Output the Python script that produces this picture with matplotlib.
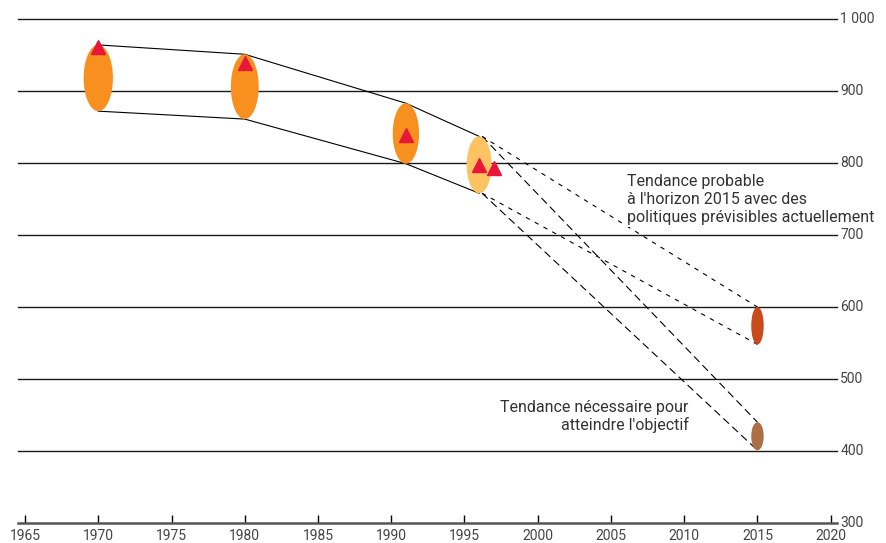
"""
Trend chart: ellipses per year, solid envelope, dashed projections to 2015
"""
import matplotlib
matplotlib.use('Agg')
import matplotlib.pyplot as plt
from matplotlib.patches import Ellipse

FONT = ['Roboto', 'DejaVu Sans']

# observed ranges (ellipse tops and bottoms)
years = [1970, 1980, 1991, 1996]
upper = [964, 951, 883, 837]
lower = [872, 861, 799, 758]
widths = [2.0, 1.9, 1.8, 1.7]
colors_obs = ['#F7901E', '#F7901E', '#F7901E', '#FDC262']

# red triangle markers
tri_years = [1970, 1980, 1991, 1996, 1997]
tri_vals = [961, 939, 839, 797, 793]

# 2015 targets
target_year = 2015
probable = [548, 600]
necessary = [401, 440]
target_colors = ['#C94A1A', '#AD6D45']

xticks = [1965, 1970, 1975, 1980, 1985, 1990, 1995, 2000, 2005, 2010, 2015, 2020]
yticks = [300, 400, 500, 600, 700, 800, 900, 1000]
ylabels = ['300', '400', '500', '600', '700', '800', '900', '1 000']

fig = plt.figure(figsize=(8.86, 5.43), dpi=100)
ax = fig.add_axes([18/886, 20/543, 819/886, 504/543])
ax.set_xlim(1964.52, 2020.43)
ax.set_ylim(300, 1000)

# horizontal grid
for y in yticks[1:]:
    ax.axhline(y, color='#1a1a1a', lw=1.0, clip_on=False, zorder=1)

# solid envelope
ax.plot(years, upper, color='black', lw=0.8, zorder=2)
ax.plot(years, lower, color='black', lw=0.8, zorder=2)

# dashed projections
x0 = years[-1] + 0.2
ax.plot([x0, target_year], [upper[-1], probable[1]], color='black', lw=0.8, dashes=(4, 5), zorder=2)
ax.plot([x0, target_year], [lower[-1], probable[0]], color='black', lw=0.8, dashes=(4, 5), zorder=2)
ax.plot([x0, target_year], [upper[-1], necessary[1]], color='black', lw=0.8, dashes=(7, 4), zorder=2)
ax.plot([x0, target_year], [lower[-1], necessary[0]], color='black', lw=0.8, dashes=(7, 4), zorder=2)

# ellipses
for yr, hi, lo, w, c in zip(years, upper, lower, widths, colors_obs):
    ax.add_patch(Ellipse((yr, (hi + lo) / 2), w, hi - lo, facecolor=c, edgecolor='none', zorder=3))
for rng, c in zip([probable, necessary], target_colors):
    ax.add_patch(Ellipse((target_year, (rng[0] + rng[1]) / 2), 0.85, rng[1] - rng[0],
                         facecolor=c, edgecolor='none', zorder=3))

ax.plot(tri_years, tri_vals, linestyle='none', marker='^', ms=10, color='#E8173A', zorder=4)

# annotations
ax.text(2006.1, 749, "Tendance probable\nà l'horizon 2015 avec des\npolitiques prévisibles actuellement",
        ha='left', va='center', fontsize=11.5, color='#333333', family=FONT, linespacing=1.25,
        bbox=dict(facecolor='white', edgecolor='none', pad=1), zorder=5, clip_on=False)
ax.text(2010.3, 448, "Tendance nécessaire pour\natteindre l'objectif",
        ha='right', va='center', multialignment='right', fontsize=11.5, color='#333333',
        family=FONT, linespacing=1.15, zorder=5)

# axes styling
for side in ['top', 'left', 'right']:
    ax.spines[side].set_visible(False)
ax.spines['bottom'].set_color('#555555')
ax.spines['bottom'].set_linewidth(1.8)
ax.set_xticks(xticks)
ax.set_xticklabels([str(x) for x in xticks], family=FONT, fontsize=10, color='#444444')
ax.tick_params(axis='x', direction='in', length=6, width=1, color='black', pad=4)
ax.set_yticks([])

for y, lab in zip(yticks, ylabels):
    ax.text(1.004, (y - 300) / 700, lab, transform=ax.transAxes, ha='left', va='center',
            family=FONT, fontsize=10, color='#444444', clip_on=False)

fig.savefig('out.png', dpi=100)
